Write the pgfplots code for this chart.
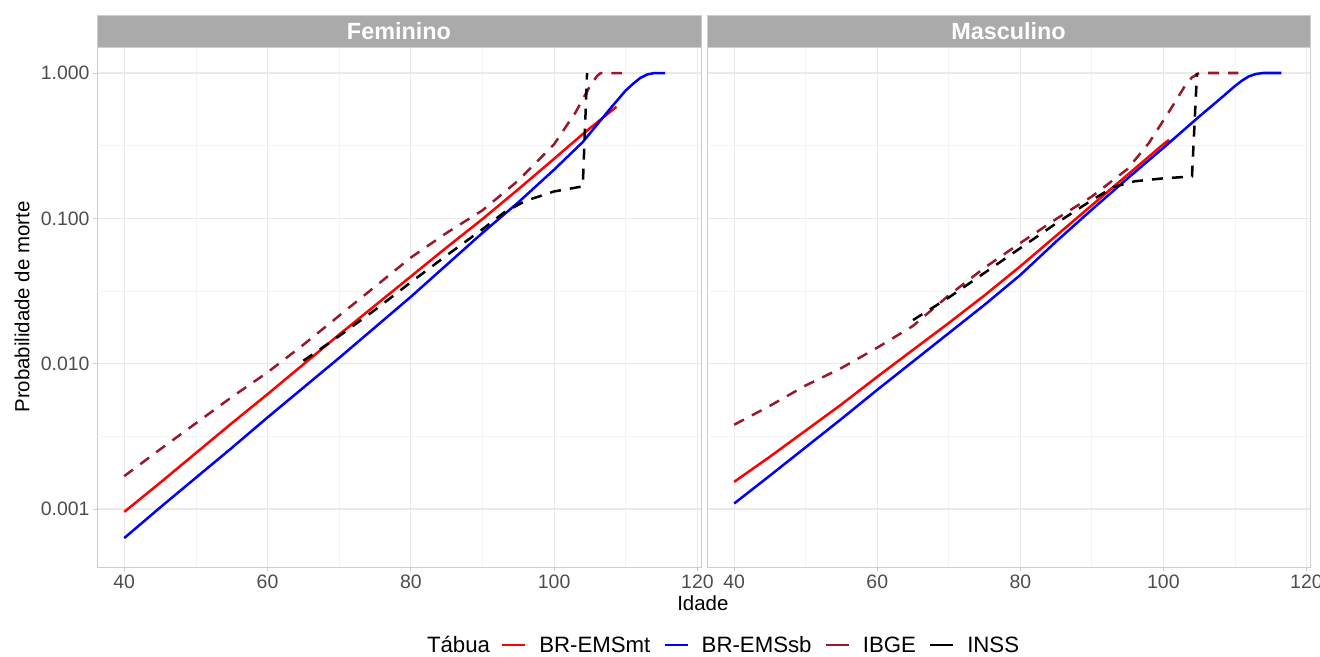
\documentclass[border=0pt]{standalone}
\usepackage{fontspec}
\setmainfont{Liberation Sans}
\usepackage{pgfplots}
\pgfplotsset{compat=1.18}
\definecolor{ibge}{RGB}{150,25,45}
\definecolor{stripgray}{RGB}{170,170,170}
\definecolor{gridmaj}{RGB}{234,234,234}
\definecolor{gridmin}{RGB}{244,244,244}
\definecolor{ticklab}{RGB}{77,77,77}
\definecolor{bordercol}{RGB}{205,205,205}

\pgfplotsset{
  rl/.style={red, line width=2.5bp},
  bl/.style={blue, line width=2.5bp},
  il/.style={ibge, line width=2.5bp, dash pattern=on 11bp off 9bp},
  nl/.style={black, line width=2.5bp, dash pattern=on 11bp off 9bp},
}

\begin{document}
\begin{tikzpicture}
\path[use as bounding box] (0,0) rectangle (1320bp,657bp);

% ---------------- Feminino ----------------
\begin{semilogyaxis}[
  scale only axis, width=604bp, height=520bp,
  at={(97bp,90bp)}, anchor=south west,
  xmin=36.2, xmax=120.5, ymin=0.000399, ymax=1.51,
  xtick={40,60,80,100,120}, minor xtick={50,70,90,110},
  ytick={0.001,0.01,0.1,1},
  yticklabels={0.001,0.010,0.100,1.000},
  yminorticks=false,
  extra y ticks={0.00316,0.0316,0.316},
  extra y tick labels={,,},
  extra y tick style={major grid style={gridmin,line width=0.7bp}, major tick length=0pt},
  xmajorgrids, ymajorgrids, xminorgrids,
  major grid style={gridmaj,line width=1.1bp},
  minor grid style={gridmin,line width=0.7bp},
  axis line style={bordercol,line width=0.9bp},
  tick style={bordercol,line width=0.9bp},
  major tick length=4bp, minor tick length=0pt, tick align=outside,
  xtick pos=bottom, ytick pos=left,
  ticklabel style={font=\fontsize{19.5}{22}\selectfont, text=ticklab},
  /pgf/number format/assume math mode=true,
  title={Feminino},
  title style={at={(0.5,1)}, anchor=south, yshift=-6pt, fill=stripgray, draw=bordercol,
      text=white, font=\bfseries\fontsize{23.5}{26}\selectfont,
      minimum width=604bp, minimum height=32bp, inner sep=0pt},
  xlabel={Idade}, xlabel style={at={(axis description cs:1.003,-0.069)}, anchor=center, font=\fontsize{20.5}{23}\selectfont},
  ylabel={Probabilidade de morte}, ylabel style={at={(axis description cs:-0.124,0.5)}, anchor=center, font=\fontsize{20.5}{23}\selectfont},
  legend style={at={(axis description cs:0.5464,-0.15)}, anchor=west, draw=none, fill=none,
    inner sep=0pt, outer sep=0pt, column sep=0pt,
    nodes={inner sep=0pt, outer sep=0pt},
    font=\fontsize{22.3}{25}\selectfont, legend columns=-1},
  legend image code/.code={\draw[#1] (0bp,0bp) -- (23bp,0bp);},
]
\addlegendimage{empty legend}\addlegendentry{Tábua\kern11bp}
\addlegendimage{red, line width=2.3bp}\addlegendentry{\kern13bp BR-EMSmt\kern13bp}
\addlegendimage{blue, line width=2.3bp}\addlegendentry{\kern13bp BR-EMSsb\kern13bp}
\addlegendimage{ibge, line width=2.3bp}\addlegendentry{\kern13bp IBGE\kern13bp}
\addlegendimage{black, line width=2.3bp}\addlegendentry{\kern13bp INSS}

\addplot[rl, forget plot] coordinates {
 (40,0.000955) (45,0.001514) (50,0.002427) (55,0.003890) (60,0.006166)
 (65,0.009886) (70,0.01585) (75,0.02512) (80,0.03981) (85,0.06310)
 (90,0.09886) (95,0.1585) (100,0.2570) (104,0.3802) (108.7,0.5861)};
\addplot[bl, forget plot] coordinates {
 (40,0.000631) (45,0.001023) (50,0.001641) (55,0.002630) (60,0.004266)
 (65,0.006839) (70,0.01096) (75,0.01778) (80,0.02884) (85,0.04786)
 (90,0.07943) (95,0.1288) (100,0.2163) (104,0.3350) (106,0.4416)
 (108,0.5821) (110,0.7586) (111,0.8414) (112,0.9226) (113,0.9772)
 (114,1.0) (115.5,1.0)};
\addplot[il, forget plot] coordinates {
 (40,0.001683) (45,0.002570) (50,0.003890) (55,0.005888) (60,0.008710)
 (65,0.01349) (70,0.02138) (75,0.03388) (80,0.05370) (85,0.07943)
 (90,0.1135) (95,0.1820) (100,0.3236) (103,0.5370) (105,0.8128)
 (106,0.9550) (106.5,1.0) (109.5,1.0)};
\addplot[nl, forget plot] coordinates {
 (65,0.01047) (70,0.01549) (75,0.02344) (80,0.03631) (85,0.05559)
 (90,0.08414) (93,0.1096) (96,0.1318) (100,0.1531) (104,0.1660)
 (104.6,1.0)};
\end{semilogyaxis}

% ---------------- Masculino ----------------
\begin{semilogyaxis}[
  scale only axis, width=603bp, height=520bp,
  at={(707bp,90bp)}, anchor=south west,
  xmin=36.2, xmax=120.5, ymin=0.000399, ymax=1.51,
  xtick={40,60,80,100,120}, minor xtick={50,70,90,110},
  ytick={0.001,0.01,0.1,1},
  yticklabels={},
  ytick style={draw=none},
  yminorticks=false,
  extra y ticks={0.00316,0.0316,0.316},
  extra y tick labels={,,},
  extra y tick style={major grid style={gridmin,line width=0.7bp}, major tick length=0pt},
  xmajorgrids, ymajorgrids, xminorgrids,
  major grid style={gridmaj,line width=1.1bp},
  minor grid style={gridmin,line width=0.7bp},
  axis line style={bordercol,line width=0.9bp},
  xtick style={bordercol,line width=0.9bp},
  major tick length=4bp, minor tick length=0pt, tick align=outside,
  xtick pos=bottom, ytick pos=left,
  ticklabel style={font=\fontsize{19.5}{22}\selectfont, text=ticklab},
  /pgf/number format/assume math mode=true,
  title={Masculino},
  title style={at={(0.5,1)}, anchor=south, yshift=-6pt, fill=stripgray, draw=bordercol,
      text=white, font=\bfseries\fontsize{23.5}{26}\selectfont,
      minimum width=603bp, minimum height=32bp, inner sep=0pt},
]
\addplot[rl] coordinates {
 (40,0.001538) (45,0.002291) (50,0.003467) (55,0.005248) (60,0.008128)
 (65,0.01245) (70,0.01905) (75,0.02951) (80,0.04677) (85,0.07586)
 (90,0.1230) (95,0.1995) (100,0.3236) (100.8,0.3467)};
\addplot[bl] coordinates {
 (40,0.001091) (45,0.001698) (50,0.002661) (55,0.004169) (60,0.006607)
 (65,0.01035) (70,0.01622) (75,0.02541) (80,0.04074) (85,0.06918)
 (90,0.1148) (95,0.1884) (100,0.3055) (105,0.5012) (108,0.6683)
 (110,0.8128) (111,0.8872) (112,0.9506) (113,0.9863) (114,1.0)
 (116.5,1.0)};
\addplot[il] coordinates {
 (40,0.003802) (45,0.005129) (50,0.007079) (55,0.009333) (60,0.01288)
 (65,0.01820) (70,0.02951) (75,0.04571) (80,0.06761) (85,0.09886)
 (90,0.1413) (95,0.2188) (98,0.3311) (101,0.5623) (103,0.8128)
 (104,0.9333) (105,1.0) (110.5,1.0)};
\addplot[nl] coordinates {
 (65,0.01995) (70,0.02851) (75,0.04217) (80,0.06237) (85,0.09226)
 (90,0.1334) (93,0.1641) (96,0.1799) (100,0.1884) (104,0.1941)
 (104.7,1.0)};
\end{semilogyaxis}
\end{tikzpicture}
\end{document}
